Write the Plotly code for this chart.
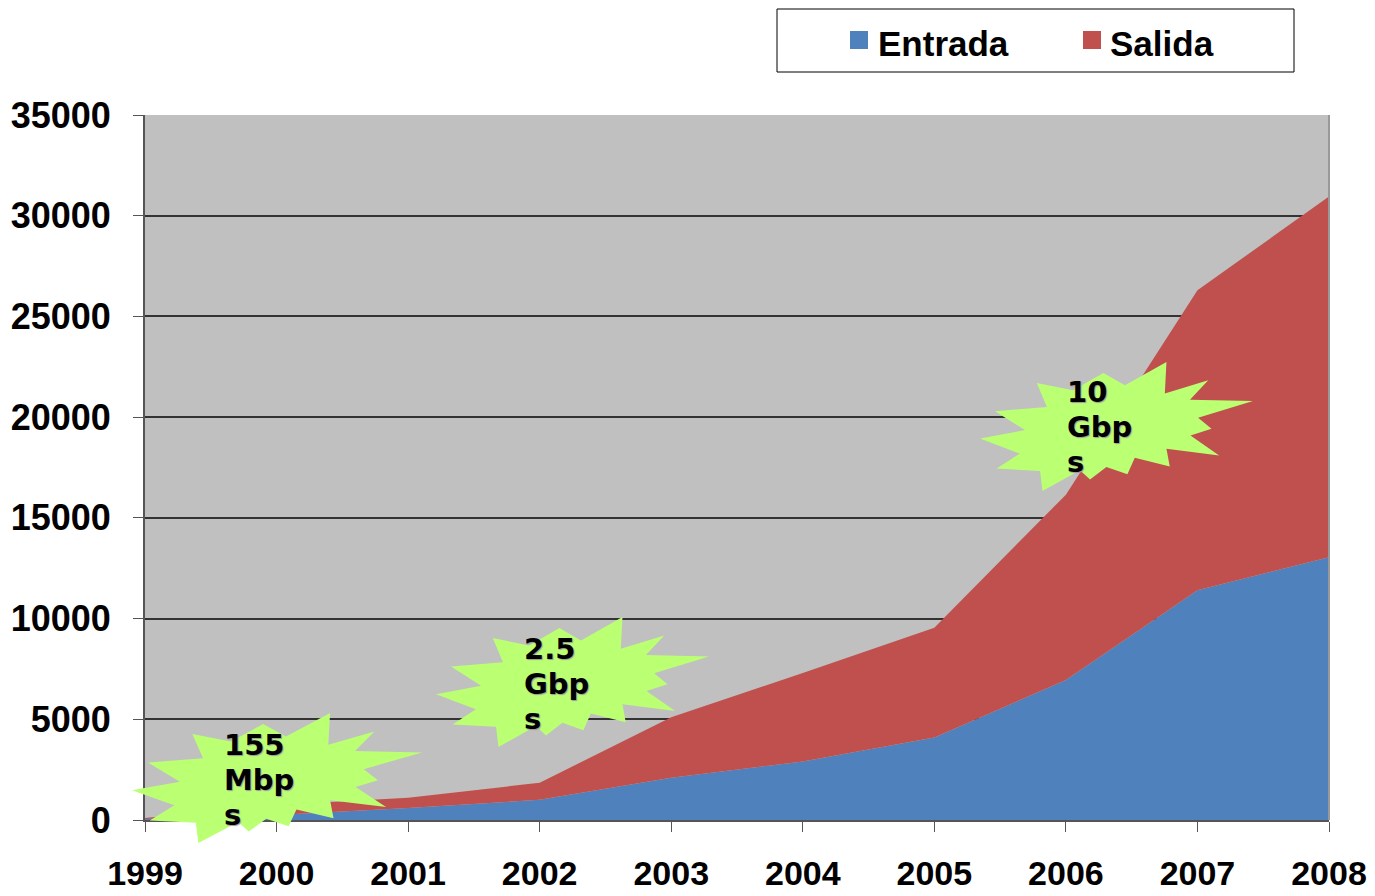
import plotly.graph_objects as go

# ---------------- data ----------------
years = [1999, 2000, 2001, 2002, 2003, 2004, 2005, 2006, 2007, 2008]
entrada = [50, 250, 600, 1000, 2100, 2900, 4100, 6950, 11400, 13050]
salida = [50, 500, 500, 850, 3000, 4400, 5450, 9200, 14900, 17900]
y_ticks = [0, 5000, 10000, 15000, 20000, 25000, 30000, 35000]
series_names = ["Entrada", "Salida"]
star_labels = [["155", "Mbp", "s"], ["2.5", "Gbp", "s"], ["10", "Gbp", "s"]]

# ---------------- layout (screen px; page body has an 8px margin) ----------------
OFF = 8
W, H = 1375 - OFF, 896 - OFF
PL, PR, PT, PB = 145, 1329, 115, 820          # plot area in screen px
ML, MR, MT, MB = PL - OFF, 1375 - PR, PT - OFF, 896 - PB
PW, PH = PR - PL, PB - PT
BLUE, RED, GRAY, LIME = "#4F81BD", "#C0504D", "#C0C0C0", "#BBFF73"


def px(x):
    return (x - PL) / PW


def py(y):
    return (PB - y) / PH


fig = go.Figure()
fig.add_trace(go.Scatter(x=years, y=entrada, name=series_names[0], mode="lines",
                         stackgroup="one", line=dict(width=0, color=BLUE),
                         fillcolor=BLUE, showlegend=False))
fig.add_trace(go.Scatter(x=years, y=salida, name=series_names[1], mode="lines",
                         stackgroup="one", line=dict(width=0, color=RED),
                         fillcolor=RED, showlegend=False))

# starburst shape (normalized, y downward)
STAR = [(0.683, 0), (0.677, 0.245), (0.836, 0.142), (0.769, 0.292), (1.0, 0.303),
        (0.799, 0.432), (0.848, 0.517), (0.771, 0.569), (0.876, 0.724), (0.683, 0.672),
        (0.695, 0.810), (0.567, 0.742), (0.540, 0.871), (0.463, 0.814), (0.403, 0.911),
        (0.366, 0.839), (0.229, 1.0), (0.220, 0.845), (0.061, 0.826), (0.146, 0.710),
        (0, 0.594), (0.165, 0.528), (0.055, 0.381), (0.245, 0.348), (0.208, 0.162),
        (0.341, 0.219), (0.452, 0.085), (0.531, 0.180)]

# (left, top, width, height, text-left, first baseline) in screen px
star_boxes = [(132, 713, 290, 130, 224, 755),
              (436, 617, 273, 130, 524, 659),
              (980, 362, 273, 129, 1067, 402)]
LINE_GAP = 35
FS = 29

shapes = []
annotations = []
for (x0, y0, w, h, tx, base), lines in zip(star_boxes, star_labels):
    pts = [(px(x0 + a * w), py(y0 + b * h)) for a, b in STAR]
    path = "M " + " L ".join(f"{a:.5f},{b:.5f}" for a, b in pts) + " Z"
    shapes.append(dict(type="path", path=path, xref="paper", yref="paper",
                       fillcolor=LIME, line=dict(width=0), layer="above"))
    for i, ln in enumerate(lines):
        annotations.append(dict(x=px(tx - 2), y=py(base + i * LINE_GAP - 10),
                                xref="paper", yref="paper",
                                xanchor="left", yanchor="middle", align="left",
                                text=ln, showarrow=False,
                                font=dict(family="DejaVu Sans", size=FS, color="black",
                                          weight="bold", shadow="1px 1px 1px #999")))

# manual legend box
shapes.append(dict(type="rect", xref="paper", yref="paper",
                   x0=px(777), x1=px(1294), y0=py(72), y1=py(9),
                   line=dict(color="black", width=1), fillcolor="white"))
for (sx, tx), name, col in zip([(850, 876), (1083, 1108)], series_names, [BLUE, RED]):
    shapes.append(dict(type="rect", xref="paper", yref="paper",
                       x0=px(sx), x1=px(sx + 18), y0=py(49), y1=py(31),
                       line=dict(width=0), fillcolor=col))
    annotations.append(dict(x=px(tx), y=py(43), xref="paper", yref="paper",
                            xanchor="left", yanchor="middle", text=name,
                            showarrow=False,
                            font=dict(family="Liberation Sans", size=35,
                                      color="black", weight="bold")))

fig.update_layout(
    width=W, height=H,
    margin=dict(l=ML, r=MR, t=MT, b=MB),
    paper_bgcolor="white", plot_bgcolor=GRAY,
    showlegend=False,
    shapes=shapes, annotations=annotations,
    font=dict(family="Liberation Sans", color="black"),
)
fig.update_xaxes(range=[1999, 2008], tickvals=years, ticktext=[str(y) for y in years],
                 automargin=False,
                 showgrid=False, showline=True, linecolor="#555", linewidth=2,
                 ticks="outside", ticklen=10, tickcolor="#555", tickwidth=1,
                 ticklabelstandoff=12,
                 tickfont=dict(family="Liberation Sans", size=34, weight="bold"),
                 zeroline=False)
fig.update_yaxes(range=[0, 35000], tickvals=y_ticks, ticktext=[str(v) for v in y_ticks],
                 automargin=False,
                 showgrid=True, gridcolor="#333", gridwidth=1.5,
                 showline=True, linecolor="#555", linewidth=2, mirror=False,
                 ticks="outside", ticklen=10, tickcolor="#555", tickwidth=1,
                 ticklabelstandoff=15,
                 tickfont=dict(family="Liberation Sans", size=36, weight="bold"),
                 zeroline=False)
# light right border of plot area
fig.add_shape(type="line", xref="paper", yref="paper", x0=1, x1=1, y0=0, y1=1,
              line=dict(color="#999", width=2))

fig.write_html("out.html")
